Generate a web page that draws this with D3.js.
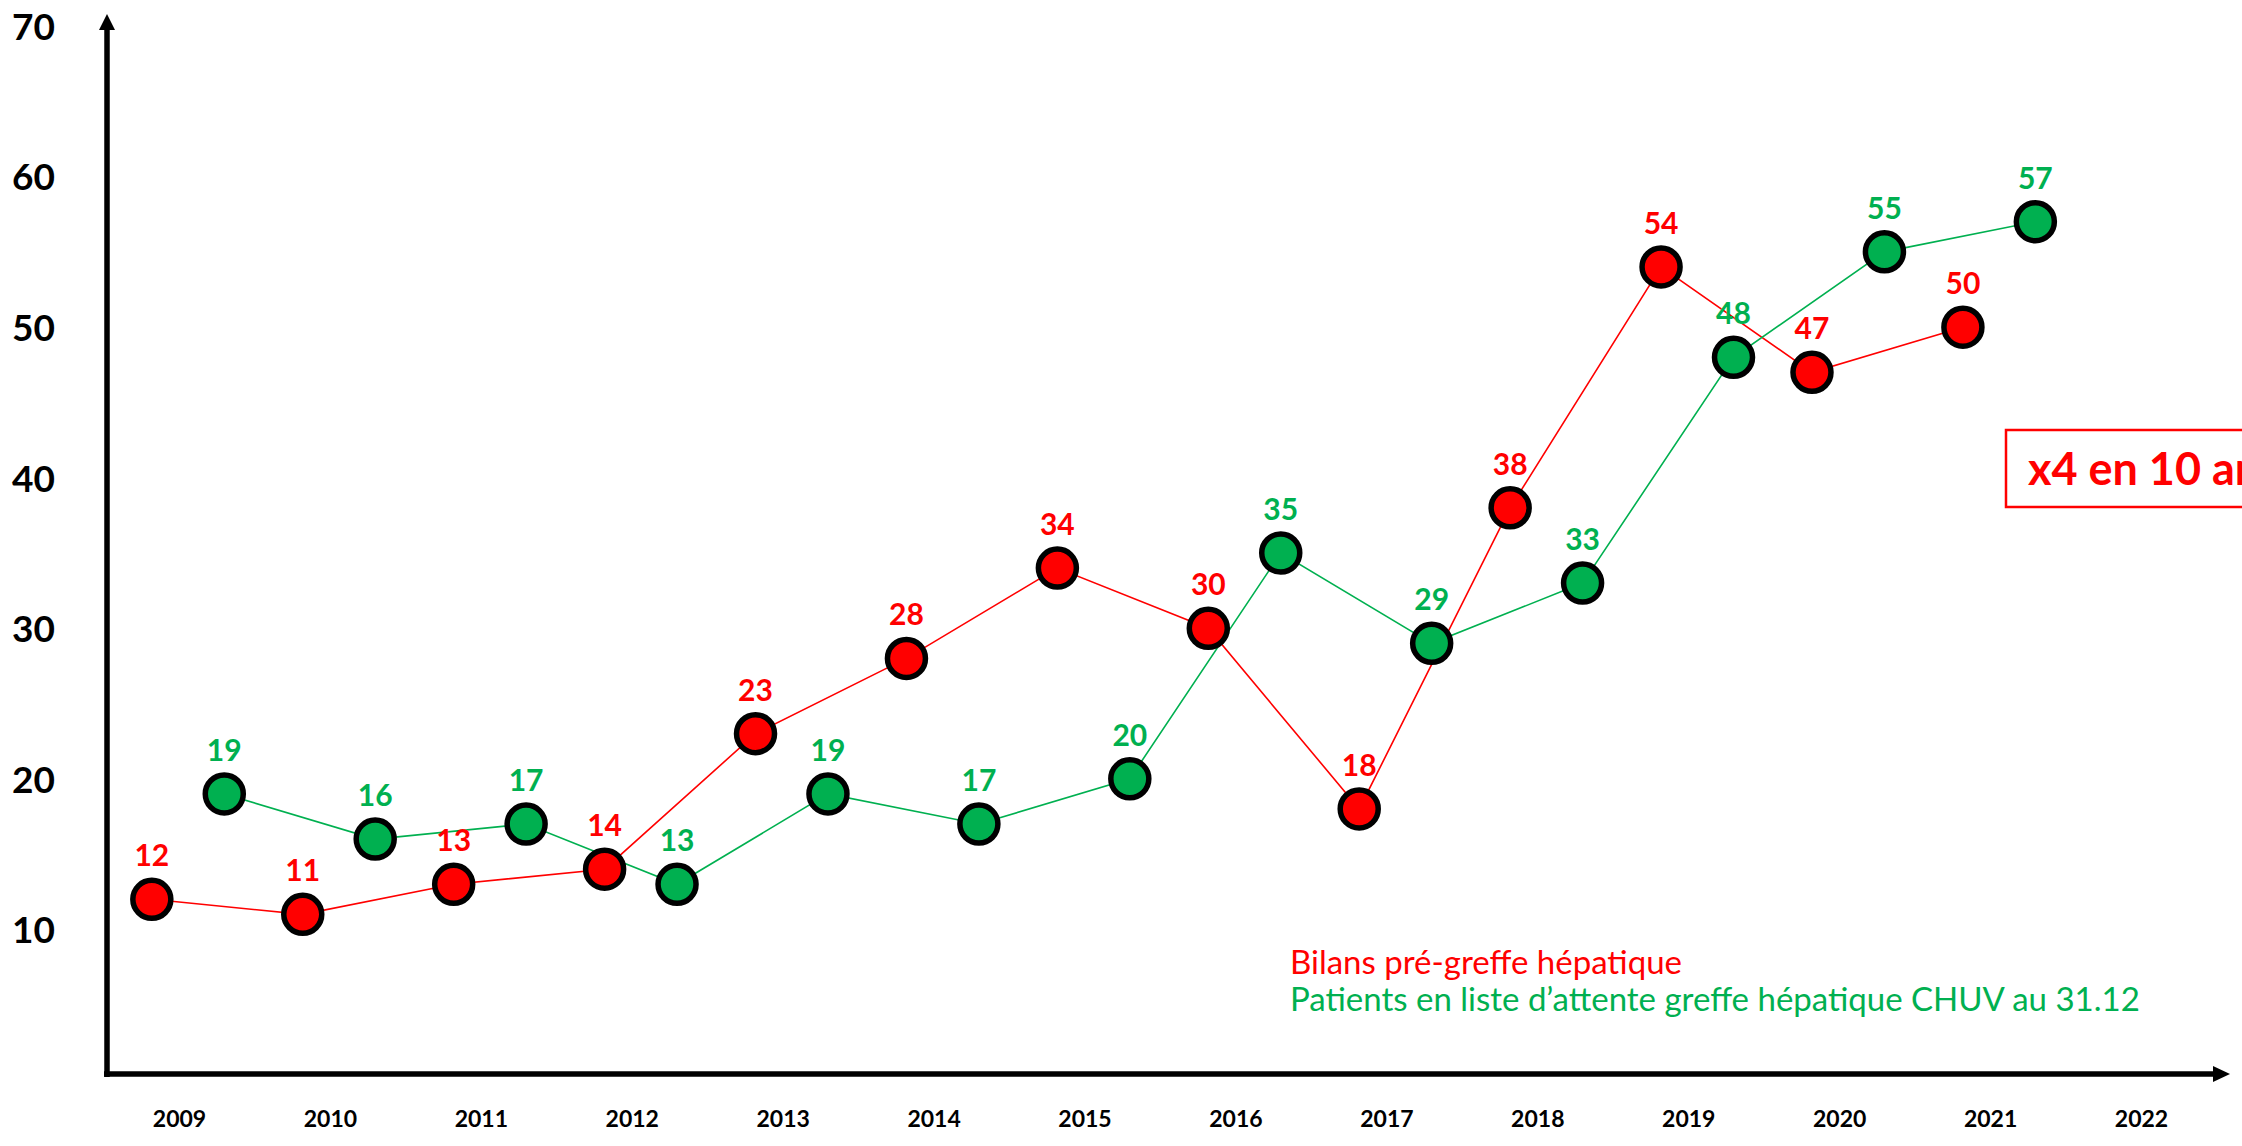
<!DOCTYPE html>
<html>
<head>
<meta charset="utf-8">
<script src="https://cdn.jsdelivr.net/npm/d3@7"></script>
<style>
  html, body { margin: 0; padding: 0; background: #fff; overflow: hidden; }
  svg { display: block; }
  text { font-family: Lato, "Open Sans", "Noto Sans", sans-serif; }
</style>
</head>
<body>
<svg id="chart" width="2242" height="1146"></svg>
<script>
// Years shown on the horizontal axis
const years = [2009, 2010, 2011, 2012, 2013, 2014, 2015, 2016, 2017, 2018, 2019, 2020, 2021, 2022];
// Years that carry data
const dataYears = [2009, 2010, 2011, 2012, 2013, 2014, 2015, 2016, 2017, 2018, 2019, 2020, 2021];
// Bilans pré-greffe hépatique
const bilans = [12, 11, 13, 14, 23, 28, 34, 30, 18, 38, 54, 47, 50];
// Patients en liste d'attente au 31.12
const attente = [19, 16, 17, 13, 19, 17, 20, 35, 29, 33, 48, 55, 57];
// Vertical tick labels
const yTicks = [10, 20, 30, 40, 50, 60, 70];
// Legend lines and call-out
const legendLabels = ["Bilans pré-greffe hépatique", "Patients en liste d’attente greffe hépatique CHUV au 31.12"];
const calloutText = "x4 en 10 ans";

const RED = "#ff0000";
const GREEN = "#00b050";

const svg = d3.select("#chart");

const x = d3.scalePoint().domain(years).range([179, 2141]);
const step = x.step();
const y = d3.scaleLinear().domain([0, 70]).range([1080, 26]);

// Axis lines with arrow heads
const axisX0 = 107, axisY0 = 1074;
svg.append("line")
  .attr("x1", axisX0).attr("x2", axisX0)
  .attr("y1", axisY0 + 3).attr("y2", 28)
  .attr("stroke", "#000").attr("stroke-width", 5.5);
svg.append("path")
  .attr("d", `M${axisX0 - 8},30 L${axisX0},14 L${axisX0 + 8},30 Z`)
  .attr("fill", "#000");
svg.append("line")
  .attr("x1", axisX0 - 3).attr("x2", 2216)
  .attr("y1", axisY0).attr("y2", axisY0)
  .attr("stroke", "#000").attr("stroke-width", 5.5);
svg.append("path")
  .attr("d", `M2213,${axisY0 - 8} L2230,${axisY0} L2213,${axisY0 + 8} Z`)
  .attr("fill", "#000");

// Y tick labels
const yAxis = svg.append("g")
  .attr("transform", "translate(55,0)")
  .call(d3.axisLeft(y).tickValues(yTicks).tickSize(0).tickPadding(0));
yAxis.select(".domain").remove();
yAxis.selectAll("text")
  .attr("font-family", "Lato, 'Open Sans', sans-serif")
  .attr("font-size", 37).attr("font-weight", 700).attr("fill", "#000")
  .attr("dy", "0.36em");

// X tick labels
const xAxis = svg.append("g")
  .attr("transform", "translate(0,1110)")
  .call(d3.axisBottom(x).tickSize(0).tickPadding(0));
xAxis.select(".domain").remove();
xAxis.selectAll("text")
  .attr("font-family", "Lato, 'Open Sans', sans-serif")
  .attr("font-size", 23).attr("font-weight", 700).attr("fill", "#000")
  .attr("dy", "0.72em");

// Series: each one sits a fraction of a step off its year position
const series = [
  { name: "bilans", values: bilans, color: RED, shift: -0.18 },
  { name: "attente", values: attente, color: GREEN, shift: 0.30 }
];

series.forEach(s => {
  s.points = dataYears.map((yr, i) => ({ year: yr, value: s.values[i], px: x(yr) + s.shift * step, py: y(s.values[i]) }));
});

const line = d3.line().x(d => d.px).y(d => d.py);

series.forEach(s => {
  svg.append("path")
    .datum(s.points)
    .attr("d", line)
    .attr("fill", "none")
    .attr("stroke", s.color)
    .attr("stroke-width", 1.6);
});

series.forEach(s => {
  const g = svg.append("g").attr("class", "dots-" + s.name);
  g.selectAll("circle")
    .data(s.points)
    .join("circle")
    .attr("cx", d => d.px).attr("cy", d => d.py)
    .attr("r", 19)
    .attr("fill", s.color)
    .attr("stroke", "#000")
    .attr("stroke-width", 5.5);
});

series.forEach(s => {
  svg.append("g").selectAll("text")
    .data(s.points)
    .join("text")
    .attr("x", d => d.px)
    .attr("y", d => d.py - 33)
    .attr("text-anchor", "middle")
    .attr("font-size", 30).attr("font-weight", 700)
    .attr("fill", s.color)
    .text(d => d.value);
});

// Legend
const legend = svg.append("g").attr("transform", "translate(1290,0)");
legend.append("text")
  .attr("x", 0).attr("y", 974)
  .attr("font-size", 33).attr("fill", RED)
  .text(legendLabels[0]);
legend.append("text")
  .attr("x", 0).attr("y", 1011)
  .attr("font-size", 33).attr("fill", GREEN)
  .text(legendLabels[1]);

// Call-out box (runs past the right edge of the page)
const callout = svg.append("g");
callout.append("rect")
  .attr("x", 2006).attr("y", 430)
  .attr("width", 320).attr("height", 77)
  .attr("fill", "#fff")
  .attr("stroke", RED).attr("stroke-width", 2.5);
callout.append("text")
  .attr("x", 2028).attr("y", 485)
  .attr("font-size", 45).attr("font-weight", 700)
  .attr("fill", RED)
  .text(calloutText);
</script>
</body>
</html>
